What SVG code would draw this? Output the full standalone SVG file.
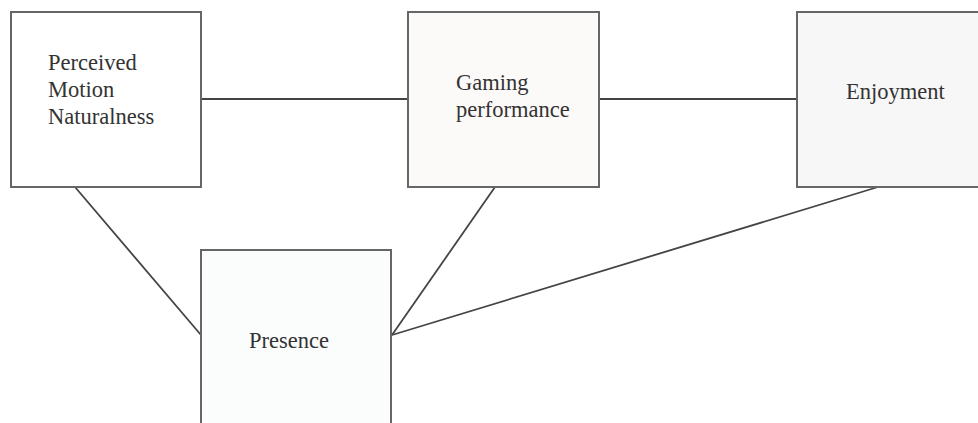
<svg xmlns="http://www.w3.org/2000/svg" width="978" height="423" viewBox="0 0 978 423">
<style>
.box{stroke:#666;stroke-width:2}
.lbl{font-family:"Liberation Serif","Times New Roman",serif;font-size:22.5px;fill:#333}
.edge{stroke:#444;stroke-width:1.8;fill:none}
</style>
<rect width="978" height="423" fill="#ffffff"/>
<g id="connectors">
<line class="edge" x1="201" y1="99" x2="408" y2="99"/>
<line class="edge" x1="599" y1="99" x2="797" y2="99"/>
<line class="edge" x1="75" y1="187" x2="201" y2="335"/>
<line class="edge" x1="495" y1="187" x2="392" y2="335"/>
<line class="edge" x1="878" y1="187" x2="392" y2="335"/>
</g>
<g id="node-pmn">
<rect class="box" x="11" y="12" width="190" height="175" fill="#ffffff"/>
<text class="lbl" x="48" y="70">Perceived</text>
<text class="lbl" x="48" y="97">Motion</text>
<text class="lbl" x="48" y="124">Naturalness</text>
</g>
<g id="node-gaming">
<rect class="box" x="408" y="12" width="191" height="175" fill="#fbfaf9"/>
<text class="lbl" x="456" y="90">Gaming</text>
<text class="lbl" x="456" y="117">performance</text>
</g>
<g id="node-enjoyment">
<rect class="box" x="797" y="12" width="190" height="175" fill="#f7f7f7"/>
<text class="lbl" x="846" y="99">Enjoyment</text>
</g>
<g id="node-presence">
<rect class="box" x="201" y="250" width="190" height="190" fill="#fbfcfc"/>
<text class="lbl" x="249" y="348">Presence</text>
</g>
</svg>
